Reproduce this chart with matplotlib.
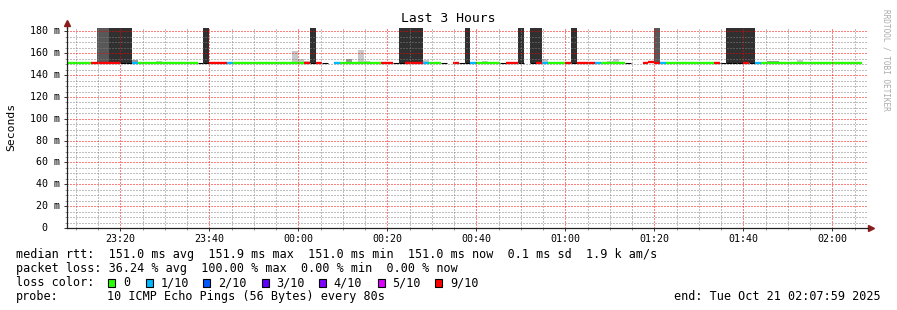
import datetime as dt

import matplotlib
matplotlib.use("Agg")
from matplotlib import pyplot as plt
from matplotlib.patches import Rectangle

# smokeping graph, last 3 hours, one step = 80 s (10 pings)
end_time = dt.datetime(2025, 10, 21, 2, 7, 59)
span_h = 3
step_s = 80

# lost pings per step out of 10 (10 = all lost, None = no data)
loss = [
    0, 0, 0, 0, 9, 9, 9, 9, 9, 10, 10, 1, 0, 0, 0,
    0, 0, 0, 0, 0, 0, 0, 10, 10, 9, 9, 9, 1, 0, 0,
    0, 0, 0, 0, 0, 0, 0, 0, 0, 0, 9, 10, 9, 10, None,
    1, 0, 0, 0, 0, 0, 0, 0, 9, 9, 10, 10, 9, 9, 9,
    1, 0, 0, 10, None, 9, 10, 10, 1, 0, 0, 0, 0, 10, 9,
    9, 10, None, 10, 9, 1, 0, 0, 0, 9, 10, 9, 9, 9, 1,
    0, 0, 0, 0, 10, None, None, 9, 9, 9, 1, 0, 0, 0, 0,
    0, 0, 0, 0, 9, 10, 10, 10, 10, 9, 10, 1, 0, 0, 0,
    0, 0, 0, 0, 0, 0, 0, 0, 0, 0, 0, 0, 0, 0, None,
]

# median rtt per step in ms
median_ms = [
    151.0, 151.0, 151.0, 151.0, 151.0, 151.0, 151.0, 151.0, 151.0, 151.0, 151.0, 151.0, 151.0, 151.0, 151.0,
    151.0, 151.0, 151.0, 151.0, 151.0, 151.0, 151.0, 151.0, 151.0, 151.0, 151.0, 151.0, 151.0, 151.0, 151.0,
    151.0, 151.0, 151.0, 151.0, 151.0, 151.0, 151.0, 151.0, 151.0, 151.0, 151.0, 151.0, 151.0, 151.0, None,
    151.0, 151.0, 151.0, 151.0, 151.0, 151.0, 151.0, 151.0, 151.0, 151.0, 151.0, 151.0, 151.0, 151.0, 151.0,
    151.0, 151.0, 151.0, 151.0, None, 151.0, 151.0, 151.0, 151.0, 151.0, 151.0, 151.0, 151.0, 151.0, 151.0,
    151.0, 151.0, None, 151.0, 151.0, 151.0, 151.0, 151.0, 151.0, 151.0, 151.0, 151.0, 151.0, 151.0, 151.0,
    151.0, 151.0, 151.0, 151.0, 151.0, None, None, 151.0, 152.3, 151.0, 151.0, 151.0, 151.0, 151.0, 151.0,
    151.0, 151.0, 151.0, 151.0, 151.0, 151.0, 151.0, 151.0, 151.0, 151.0, 151.0, 151.0, 151.0, 151.0, 151.0,
    151.0, 151.0, 151.0, 151.0, 151.0, 151.0, 151.0, 151.0, 151.0, 151.0, 151.0, 151.0, 151.0, 151.0, None,
]

# smoke above the median: step index, top of spread (ms, 200 = off scale), density 1..4
smoke_step = [5, 6, 7, 8, 9, 10, 11, 15, 23, 32, 38, 39, 40, 41, 47, 49, 50, 56, 57, 58,
              59, 60, 67, 70, 76, 78, 79, 80, 85, 91, 92, 99, 111, 112, 113, 114, 115, 118, 119, 123]
smoke_top_ms = [200, 200, 200, 200, 200, 200, 153.5, 152.6, 200, 152.5, 161.8, 155.0, 153.0, 200, 155.0, 162.7, 152.6, 200, 200, 200,
                200, 153.5, 200, 152.6, 200, 200, 200, 154.5, 200, 152.6, 154.5, 200, 200, 200, 200, 200, 200, 152.6, 152.6, 154.0]
smoke_level = [3, 3, 4, 4, 4, 4, 2, 1, 4, 1, 1, 1, 1, 4, 2, 1, 1, 4, 4, 4,
               4, 1, 4, 1, 4, 4, 4, 1, 4, 1, 1, 3, 4, 4, 4, 4, 4, 2, 2, 1]

loss_labels = ["0", "1/10", "2/10", "3/10", "4/10", "5/10", "9/10"]
loss_values = [0, 1, 2, 3, 4, 5, 9]

stats_lines = [
    "median rtt:  151.0 ms avg  151.9 ms max  151.0 ms min  151.0 ms now  0.1 ms sd  1.9 k am/s",
    "packet loss: 36.24 % avg  100.00 % max  0.00 % min  0.00 % now",
]
probe_text = "10 ICMP Echo Pings (56 Bytes) every 80s"

loss_colors = {0: "#26ff00", 1: "#00b8ff", 2: "#0059ff", 3: "#5e00ff",
               4: "#7e00ff", 5: "#dd00ff", 9: "#ff0000", 10: "#000000"}
smoke_colors = {1: "#c8c8c8", 2: "#9a9a9a", 3: "#585858", 4: "#303030"}

MONO = "DejaVu Sans Mono"
W, H = 897, 310

def fx(px):
    return px / W

def fy(py):
    return 1 - py / H

start_time = end_time - dt.timedelta(hours=span_h)
step_min = step_s / 60.0
span_min = span_h * 60

fig = plt.figure(figsize=(W / 100, H / 100), dpi=100)
ax = fig.add_axes([fx(67), fy(228), 801 / W, 200 / H])

# smoke
for i, top, lev in zip(smoke_step, smoke_top_ms, smoke_level):
    base = median_ms[i]
    ax.bar(i * step_min, (top - base) / 1000, bottom=base / 1000, width=step_min,
           align="edge", color=smoke_colors[lev], linewidth=0, zorder=1)

# median line coloured by loss
for i, (m, l) in enumerate(zip(median_ms, loss)):
    if m is None or l is None:
        continue
    lw = 0.8 if l == 10 else 1.7
    lc = ax.hlines(m / 1000, i * step_min, (i + 1) * step_min,
                   colors=loss_colors[l], linewidth=lw, zorder=2)
    lc.set_capstyle("butt")

ax.set_xlim(0, span_min)
ax.set_ylim(0, 0.1832)

# time ticks
def minutes_to(h, m):
    t = dt.datetime(start_time.year, start_time.month, start_time.day, h, m)
    if t < start_time:
        t += dt.timedelta(days=1)
    return (t - start_time).total_seconds() / 60

major_times = [(23, 20), (23, 40), (0, 0), (0, 20), (0, 40), (1, 0), (1, 20), (1, 40), (2, 0)]
major_x = [minutes_to(h, m) for h, m in major_times]
ax.set_xticks(major_x, [f"{h:02d}:{m:02d}" for h, m in major_times])
first = minutes_to(23, 10)
minor_x = [first + 5 * k for k in range(36) if first + 5 * k < span_min]
ax.set_xticks([x for x in minor_x if min(abs(x - mx) for mx in major_x) > 0.1], minor=True)

yt = [0.02 * k for k in range(10)]
ax.set_yticks(yt, [""] * len(yt))
ax.set_yticks([0.005 * k for k in range(37) if k % 4], minor=True)
for v in yt:
    if v == 0:
        ax.text(-20 / 801, v, "0", transform=ax.get_yaxis_transform(), ha="right",
                va="center", family=MONO, fontsize=7.2)
    else:
        ax.text(-7 / 801, v, f"{round(v * 1000)} m", transform=ax.get_yaxis_transform(),
                ha="right", va="center", family=MONO, fontsize=7.2)

ax.tick_params(axis="both", which="major", length=2.5, width=0.7, color="#333333",
               labelsize=7.2, pad=2)
ax.tick_params(axis="both", which="minor", length=1.5, width=0.7, color="#999999")
for lab in ax.get_xticklabels():
    lab.set_family(MONO)

ax.set_axisbelow(False)
ax.grid(which="minor", color=(0.5, 0.5, 0.5, 0.22), linestyle=(0, (1, 2)), linewidth=0.72,
        snap=True)
ax.grid(which="major", color=(1.0, 0.0, 0.0, 0.25), linestyle=(0, (1, 2)), linewidth=0.72,
        snap=True)

for s in ["top", "right"]:
    ax.spines[s].set_visible(False)
for s in ["left", "bottom"]:
    ax.spines[s].set_color("#222222")
    ax.spines[s].set_linewidth(0.9)
    ax.spines[s].set_zorder(5)

# axis arrows
arrow_c = "#8b1c1c"
ax.plot([0, 0], [1, 1.02], color="#222222", lw=0.9, transform=ax.transAxes, clip_on=False)
ax.plot([0], [1.025], marker="^", ms=4, color=arrow_c, transform=ax.transAxes, clip_on=False)
ax.plot([1.004], [0], marker=">", ms=4, color=arrow_c, transform=ax.transAxes, clip_on=False)

# titles
fig.text(fx(448), fy(19), "Last 3 Hours", ha="center", va="center", family=MONO, fontsize=9.4)
fig.text(fx(11), fy(127), "Seconds", ha="center", va="center", rotation=90, family=MONO, fontsize=8.2)
fig.text(fx(886), fy(60), "RRDTOOL / TOBI OETIKER", ha="center", va="center", rotation=270,
         family=MONO, fontsize=5.6, color="#aaaaaa")

# legend block
fs = 8.5
fig.text(fx(16), fy(254.5), stats_lines[0], ha="left", va="center", family=MONO, fontsize=fs)
fig.text(fx(16), fy(268.5), stats_lines[1], ha="left", va="center", family=MONO, fontsize=fs)
fig.text(fx(16), fy(282.5), "loss color:", ha="left", va="center", family=MONO, fontsize=fs)
box_x = [108.3, 145.7, 203.3, 261.7, 319.3, 377.7, 435.3]
for bx, lab, lv in zip(box_x, loss_labels, loss_values):
    fig.patches.append(Rectangle((fx(bx), fy(286.5)), 7 / W, 8 / H, transform=fig.transFigure,
                                 facecolor=loss_colors[lv], edgecolor="black", linewidth=0.8))
    fig.text(fx(bx + 14.5), fy(282.5), lab, ha="left", va="center", family=MONO, fontsize=fs)
fig.text(fx(16), fy(296.5), "probe:", ha="left", va="center", family=MONO, fontsize=fs)
fig.text(fx(107.3), fy(296.5), probe_text, ha="left", va="center", family=MONO, fontsize=fs)
fig.text(fx(881), fy(296.5), "end: " + end_time.strftime("%a %b %d %H:%M:%S %Y"),
         ha="right", va="center", family=MONO, fontsize=fs)

fig.savefig("out.png", dpi=100, facecolor="white")
